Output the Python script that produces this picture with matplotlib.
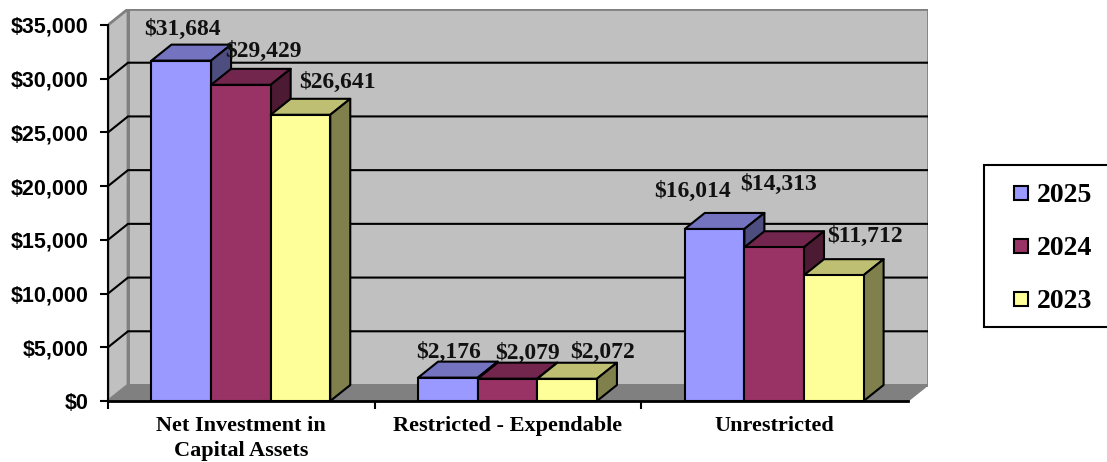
import numpy as np
import matplotlib
matplotlib.use("Agg")
import matplotlib.pyplot as plt
from matplotlib.lines import Line2D
from matplotlib.patches import Polygon, Rectangle

# data
categories = ["Net Investment in\nCapital Assets", "Restricted - Expendable", "Unrestricted"]
years = ["2025", "2024", "2023"]
values_2025 = [31684, 2176, 16014]
values_2024 = [29429, 2079, 14313]
values_2023 = [26641, 2072, 11712]
y_ticks = [0, 5000, 10000, 15000, 20000, 25000, 30000, 35000]

# colours: front, top, side
colors_2025 = ("#9999FF", "#7373BF", "#4D4D80")
colors_2024 = ("#993366", "#73264D", "#4D1A33")
colors_2023 = ("#FFFF99", "#BFBF73", "#80804D")

W, H = 1107, 462
px_x = 800 / 3.0        # pixels per category
px_y = 376 / 35000.0    # pixels per dollar
dx = 20 / px_x          # 3d depth in data units
dy = 16 / px_y
bar_w = 0.2235
group_start = 0.163

# label offsets from the bar's front top centre, in pixels (hand placed in the original)
label_dx = [[1, 23, 37], [1, 20, 35], [-22, 4, 31]]
label_dy = [[31, 33, 32], [25, 25, 26], [38, 63, 39]]

fig = plt.figure(figsize=(W / 100, H / 100), dpi=100)
ax = fig.add_axes([108 / W, (H - 401) / H, 820 / W, 392 / H])
ax.set_xlim(0, 820 / px_x)
ax.set_ylim(0, 392 / px_y)
ax.patch.set_visible(False)

# walls and floor
x_max = 3.0
y_top = y_ticks[-1]
wall_grey = "#C0C0C0"
ax.add_patch(Polygon([(dx, dy), (x_max + dx, dy), (x_max + dx, y_top + dy), (dx, y_top + dy)],
                     fc=wall_grey, ec="#808080", lw=2, zorder=1))
ax.add_patch(Polygon([(0, 0), (dx, dy), (dx, y_top + dy), (0, y_top)],
                     fc=wall_grey, ec="#808080", lw=2, zorder=1))
ax.add_patch(Polygon([(0, 0), (x_max, 0), (x_max + dx, dy), (dx, dy)],
                     fc="#808080", ec="#808080", lw=1, zorder=1))

# gridlines on the back and side walls
for v in y_ticks[1:-1]:
    ax.plot([0, dx, x_max + dx], [v, v + dy, v + dy], color="black", lw=1.5, zorder=2,
            solid_joinstyle="miter")

# bars
all_values = [values_2025, values_2024, values_2023]
all_colors = [colors_2025, colors_2024, colors_2023]
for g in range(len(categories)):
    for s in range(len(years)):
        v = all_values[s][g]
        front, top, side = all_colors[s]
        x0 = g + group_start + s * bar_w
        x1 = x0 + bar_w
        z = 3 + g * 3 + s
        ax.add_patch(Polygon([(x0, v), (x1, v), (x1 + dx, v + dy), (x0 + dx, v + dy)],
                             fc=top, ec="black", lw=1.5, zorder=z, joinstyle="round"))
        ax.add_patch(Polygon([(x1, 0), (x1 + dx, dy), (x1 + dx, v + dy), (x1, v)],
                             fc=side, ec="black", lw=1.5, zorder=z, joinstyle="round"))
        ax.bar(x0, v, width=bar_w, align="edge", color=front, edgecolor="black", lw=1.5, zorder=z)

# value labels
for g in range(len(categories)):
    for s in range(len(years)):
        v = all_values[s][g]
        xc = g + group_start + (s + 0.5) * bar_w
        ax.annotate(f"${v:,}", (xc, v),
                    xytext=(label_dx[g][s], label_dy[g][s]), textcoords="offset pixels",
                    ha="center", va="center", fontsize=17, fontweight="bold",
                    family="Liberation Serif", color="#111111", zorder=30)

# axes
for name in ["top", "right"]:
    ax.spines[name].set_visible(False)
ax.spines["left"].set_bounds(0, y_top)
ax.spines["bottom"].set_bounds(0, x_max)
ax.spines["left"].set_linewidth(1.5)
ax.spines["bottom"].set_linewidth(2)
ax.spines["left"].set_zorder(20)
ax.spines["bottom"].set_zorder(20)

ax.set_yticks(y_ticks)
ax.set_yticklabels([f"${v:,}" for v in y_ticks], fontsize=15.5, fontweight="bold",
                   family="Liberation Sans")
ax.tick_params(axis="y", length=6, width=1.5, pad=8)

ax.set_xticks([0, 1, 2])
ax.set_xticklabels([])
ax.tick_params(axis="x", which="major", length=6, width=1.5)
ax.set_xticks([0.5, 1.5, 2.5], minor=True)
ax.set_xticklabels(categories, minor=True, fontsize=16, fontweight="bold",
                   family="Liberation Serif", linespacing=1.3)
ax.tick_params(axis="x", which="minor", length=0, pad=11)

# legend, its box is drawn apart so it can run off the right edge like the original
fig.add_artist(Rectangle((984 / W, (H - 327) / H), 130 / W, 162 / H, transform=fig.transFigure,
                         fc="white", ec="black", lw=1.5))
handles = [Line2D([], [], ls="none", marker="s", ms=10, mfc=c[0], mec="black", mew=1.5)
           for c in all_colors]
leg = fig.legend(handles, years, loc="upper left", bbox_to_anchor=(984 / W, (H - 165) / H),
                 prop={"family": "Liberation Serif", "weight": "bold", "size": 20},
                 frameon=False, handlelength=1.37, handletextpad=-0.1,
                 labelspacing=0.99, borderpad=0.65, borderaxespad=0)

fig.savefig("out.png", dpi=100)
